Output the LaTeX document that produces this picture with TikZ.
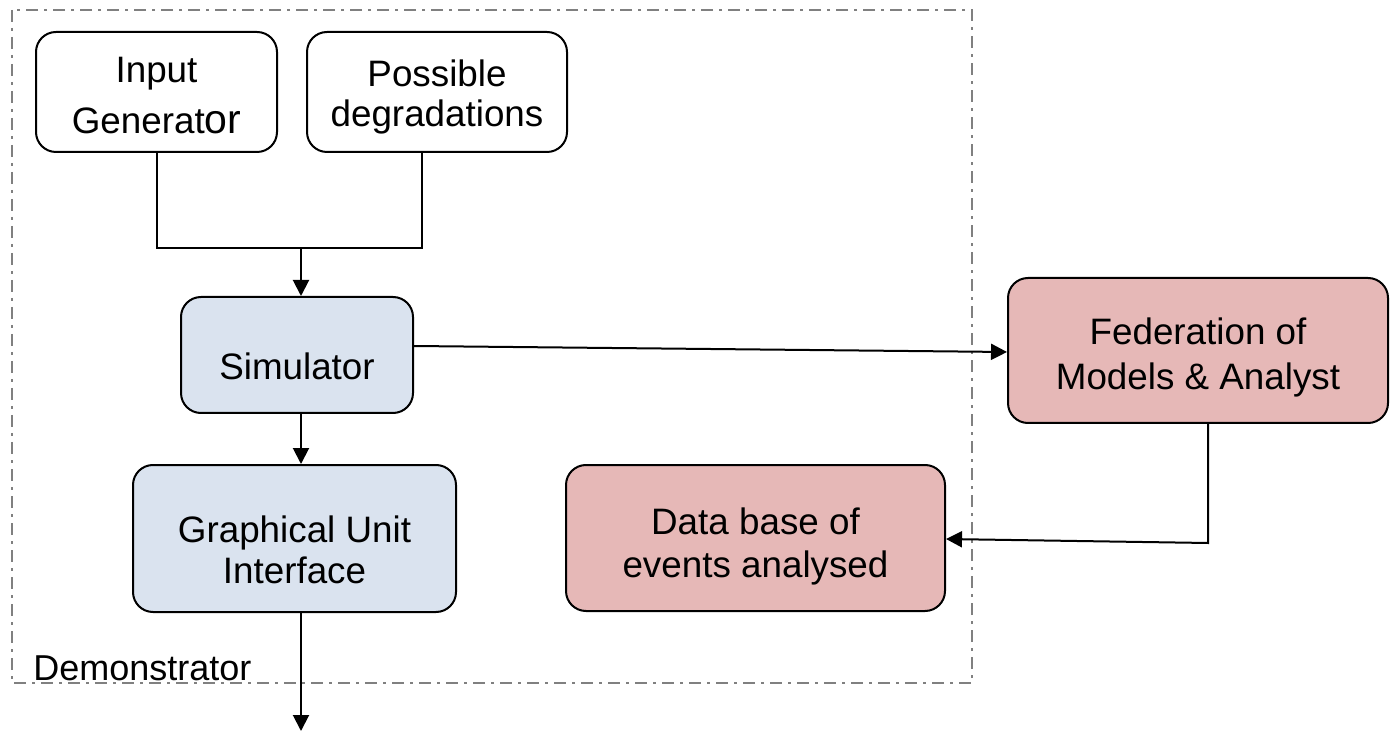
\documentclass[tikz,border=0pt]{standalone}
\usepackage{fontspec}
\setmainfont{Liberation Sans}
\usetikzlibrary{arrows.meta}
\definecolor{simblue}{HTML}{DAE3EF}
\definecolor{fedpink}{HTML}{E6B8B7}
\definecolor{framegray}{HTML}{808080}
\begin{document}
\begin{tikzpicture}[x=0.5pt,y=-0.5pt,
  box/.style={draw=black, line width=1pt, rounded corners=10pt, inner sep=0pt},
  lbl/.style={anchor=base, inner sep=0pt, font=\fontsize{18.4pt}{22pt}\selectfont},
  wire/.style={draw=black, line width=1pt},
  arr/.style={wire, -{Triangle[length=8pt,width=8pt]}},
  frame/.style={draw=framegray, line width=1pt,
    dash pattern=on 6pt off 3pt on 1.5pt off 3pt}]
\useasboundingbox (0,0) rectangle (1390,731);

% demonstrator boundary
\draw[frame] (12,10) rectangle (972,683);
\node[lbl, anchor=base west, font=\fontsize{18pt}{22pt}\selectfont] (demo) at (33,680) {Demonstrator};

% boxes
\node[box, fill=white, minimum width=120.5pt, minimum height=60pt] (inp) at (156.5,92) {};
\node[box, fill=white, minimum width=130pt, minimum height=60pt] (deg) at (437,92) {};
\node[box, fill=simblue, minimum width=116pt, minimum height=58pt] (sim) at (297,355) {};
\node[box, fill=simblue, minimum width=161.5pt, minimum height=73.5pt] (gui) at (294.5,538.5) {};
\node[box, fill=fedpink, minimum width=190pt, minimum height=72.5pt] (fed) at (1198,350.5) {};
\node[box, fill=fedpink, minimum width=189.5pt, minimum height=73pt] (db) at (755.5,538) {};

% box texts, one node per line, placed on their baselines
\node[lbl] (inp-a) at (inp.center |- 0,83) {Input};
\node[lbl] (inp-b) at (inp.center |- 0,134) {Generat{\fontsize{20.5pt}{22pt}\selectfont or}};
\node[lbl] (deg-a) at (deg.center |- 0,87) {Possible};
\node[lbl] (deg-b) at (deg.center |- 0,127) {degradations};
\node[lbl] (sim-a) at (sim.center |- 0,380) {Simulator};
\node[lbl] (gui-a) at (gui.center |- 0,542) {Graphical Unit};
\node[lbl] (gui-b) at (gui.center |- 0,583) {Interface};
\node[lbl] (fed-a) at (fed.center |- 0,345) {Federation of};
\node[lbl] (fed-b) at (fed.center |- 0,390) {Models \& Analyst};
\node[lbl] (db-a) at (db.center |- 0,534) {Data base of};
\node[lbl] (db-b) at (db.center |- 0,577) {events analysed};

% connectors
\coordinate (join) at (301,248);
\coordinate (out) at (301,731);
\draw[wire] (inp.south -| 157,0) |- (join) -| (deg.south -| 422,0);
\draw[arr] (join) -- (sim.north -| join);
\draw[arr] (sim.south -| join) -- (gui.north -| join);
\draw[arr] (gui.south -| join) -- (out);
\draw[arr] (sim.east |- 0,346) -- (fed.west |- 0,352);
\draw[arr] (fed.south -| 1208,0) -- (1208,543) -- (db.east |- 0,539);
\end{tikzpicture}
\end{document}
